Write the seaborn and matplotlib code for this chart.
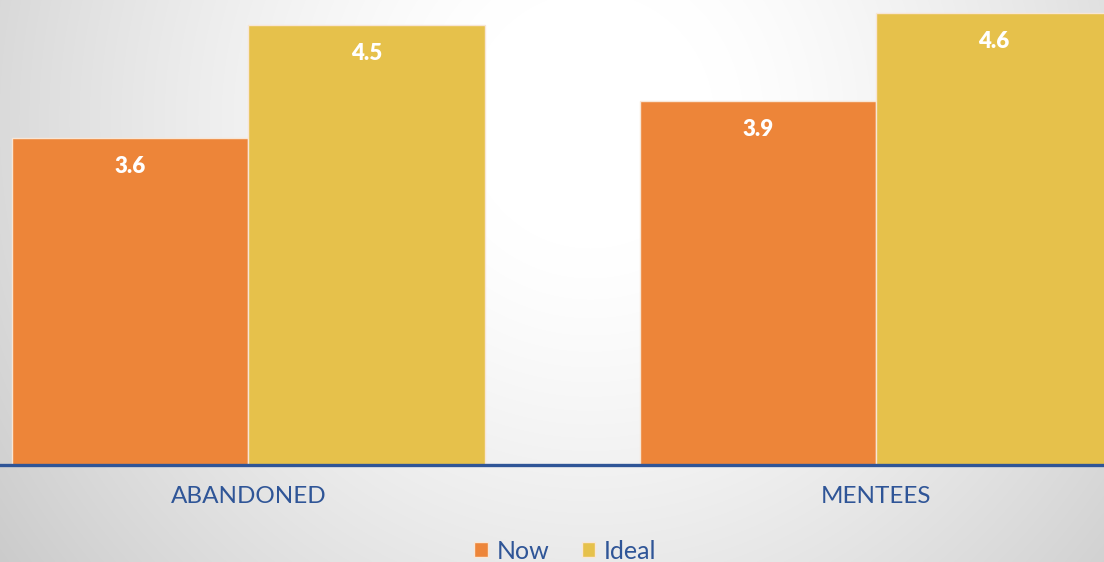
import numpy as np
import pandas as pd
import matplotlib
matplotlib.use("Agg")
import matplotlib.pyplot as plt
import seaborn as sns

categories = ["ABANDONED", "MENTEES"]
series_names = ["Now", "Ideal"]
now_values = [3.6, 3.9]
ideal_values = [4.5, 4.6]

df = pd.DataFrame({
    "category": categories * 2,
    "series": [series_names[0]] * 2 + [series_names[1]] * 2,
    "value": now_values + ideal_values,
})

sns.set_theme(style="white")
plt.rcParams["font.family"] = ["Lato", "DejaVu Sans"]

W, H = 1104, 562
fig = plt.figure(figsize=(W / 100, H / 100), dpi=100)

# background radial gradient
bg = fig.add_axes([0, 0, 1, 1], zorder=-10)
yy, xx = np.mgrid[0:H, 0:W]
d = np.sqrt(((xx - 590) / 620.0) ** 2 + ((yy - 120) / 640.0) ** 2)
t = np.clip((d - 0.2) / 0.85, 0, 1.25)
shade = 1.0 - 0.17 * t ** 1.3
img = np.dstack([shade, shade, shade])
bg.imshow(np.clip(img, 0, 1), aspect="auto", extent=[0, 1, 0, 1])
bg.axis("off")

ax = fig.add_axes([0, 97 / H, 1, 465 / H])
ax.set_facecolor("none")
palette = {"Now": "#ED8539", "Ideal": "#E6C14B"}
sns.barplot(data=df, x="category", y="value", hue="series", order=categories,
            hue_order=series_names, palette=palette, width=0.753, gap=0,
            edgecolor="#F8E6D6", linewidth=1.0, saturation=1, ax=ax, legend=True)

ax.set_ylim(1.0, 4.702)
ax.set_xlim(-0.396, 1.364)
for c in ax.containers:
    ax.bar_label(c, fmt="%.1f", padding=-28, color="white", fontsize=16,
                 fontweight="heavy")

for s in ["top", "left", "right"]:
    ax.spines[s].set_visible(False)
ax.spines["bottom"].set_color("#2F5597")
ax.spines["bottom"].set_linewidth(2.4)
ax.set_yticks([])
ax.set_xlabel("")
ax.set_ylabel("")
ax.tick_params(axis="x", length=0, pad=15, labelsize=17.5, labelcolor="#2F5597")

leg = ax.legend(loc="center", bbox_to_anchor=(0.512, -0.185), ncol=2,
                frameon=False, fontsize=18, handlelength=0.55, handleheight=0.55,
                handletextpad=0.35, columnspacing=1.3)
for t in leg.get_texts():
    t.set_color("#2F5597")

fig.savefig("out.png", dpi=100)
